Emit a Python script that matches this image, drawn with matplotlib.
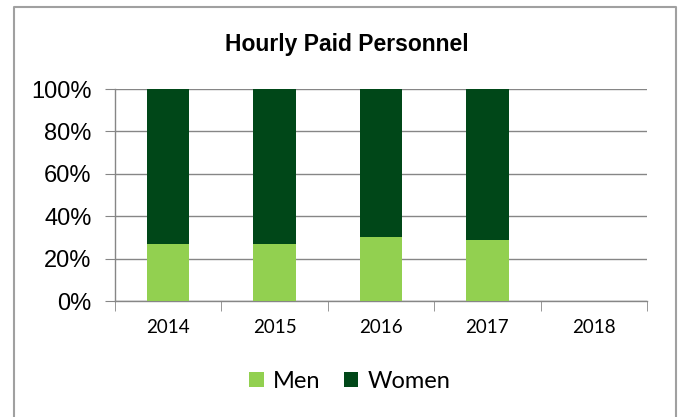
import numpy as np
import matplotlib.pyplot as plt
from matplotlib.lines import Line2D

years = ['2014', '2015', '2016', '2017', '2018']
men = [27, 27, 30, 29, 0]
women = [73, 73, 70, 71, 0]
yticks = [0, 20, 40, 60, 80, 100]

men_color = '#92D050'
women_color = '#004718'
grid_color = '#868686'

fig = plt.figure(figsize=(6.84, 4.17), dpi=100)
ax = fig.add_axes([115 / 684, 1 - 301 / 417, (647 - 115) / 684, (301 - 89) / 417])

x = np.arange(len(years))
ax.bar(x, men, width=0.4, color=men_color, label='Men', linewidth=0, zorder=3)
ax.bar(x, women, width=0.4, bottom=men, color=women_color, label='Women', linewidth=0, zorder=3)

ax.set_xlim(-0.5, len(years) - 0.5)
ax.set_ylim(0, 100)
ax.set_yticks(yticks)
ax.set_yticklabels([str(v) + '%' for v in yticks], fontsize=17, family='Liberation Sans')
ax.tick_params(axis='y', length=7, color=grid_color, pad=10)
ax.yaxis.grid(True, color=grid_color, linewidth=1, zorder=0)

ax.set_xticks(x)
ax.set_xticklabels(years, fontsize=13.5, family='Lato')
ax.tick_params(axis='x', which='major', length=0, pad=13)
ax.set_xticks(np.arange(-0.5, len(years)), minor=True)
ax.tick_params(axis='x', which='minor', length=7, color=grid_color)

for s in ['top', 'right']:
    ax.spines[s].set_visible(False)
for s in ['left', 'bottom']:
    ax.spines[s].set_color(grid_color)
    ax.spines[s].set_linewidth(1)

fig.text(347 / 684, 1 - 45 / 417, 'Hourly Paid Personnel', ha='center', va='center',
         fontsize=16.5, fontweight='bold', family='Liberation Sans')

fig.legend(loc='center', bbox_to_anchor=(350 / 684, 1 - 381 / 417), ncol=2, frameon=False,
           prop={'family': 'Lato', 'size': 17}, handlelength=0.6, handleheight=0.6,
           handletextpad=0.4, columnspacing=1.0)

# outer chart border (open at the bottom)
bx0, bx1, by1 = 14 / 684, 676 / 684, 1 - 7 / 417
fig.add_artist(Line2D([bx0, bx0, bx1, bx1], [0, by1, by1, 0], transform=fig.transFigure,
                      color='#A0A0A0', linewidth=1.5))

fig.savefig('out.png', dpi=100)
